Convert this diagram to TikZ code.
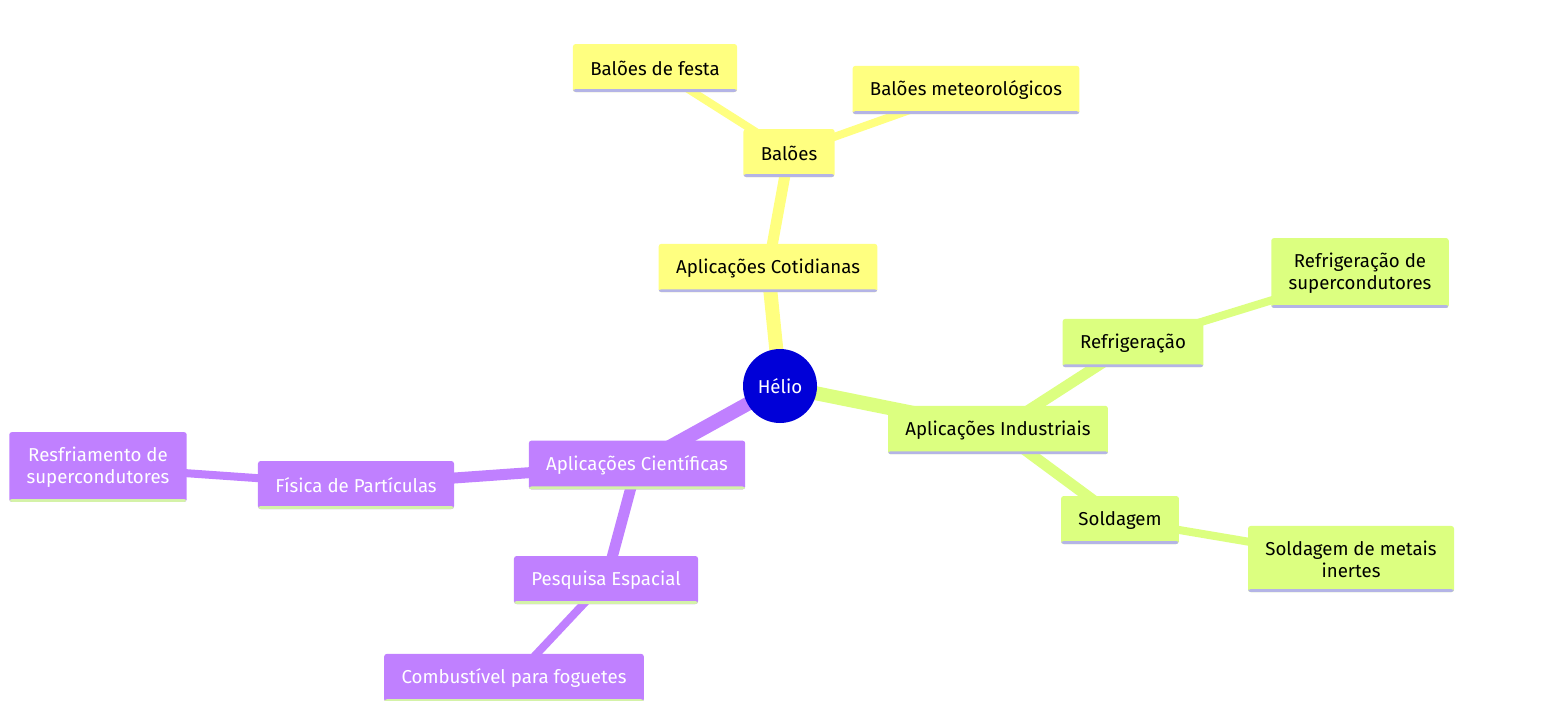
\documentclass[tikz,border=0pt]{standalone}
\usepackage{fontspec}
\setmainfont{Fira Sans}
\usetikzlibrary{backgrounds}
\definecolor{cotid}{HTML}{FFFF80}
\definecolor{indus}{HTML}{DCFF80}
\definecolor{cient}{HTML}{C080FF}
\definecolor{raiz}{HTML}{0000D8}
\definecolor{lavend}{HTML}{B4B4E6}
\definecolor{verdec}{HTML}{D4F2A8}
\tikzset{mmnode/.style={rectangle,rounded corners=2pt,inner xsep=13pt,inner ysep=11pt,
    minimum height=36pt,align=center,font=\fontsize{14}{16.5}\selectfont,
    path picture={\fill[#1] ([yshift=2.2pt]path picture bounding box.south west)
      rectangle (path picture bounding box.south east);}}}
\tikzset{cotnode/.style={mmnode=lavend,fill=cotid},
  indnode/.style={mmnode=lavend,fill=indus},
  cienode/.style={mmnode=verdec,fill=cient,text=white}}
\tikzset{lvlone/.style={line width=10.5pt},
  lvltwo/.style={line width=8.25pt},
  lvlthree/.style={line width=6pt}}

\begin{document}
\begin{tikzpicture}[x=0.75pt,y=-0.75pt]
  \useasboundingbox (0,0) rectangle (1544,700);
  \node(helio)[circle,fill=raiz,text=white,minimum size=55.5pt,inner sep=0pt,
    font=\fontsize{14}{16.5}\selectfont] at (780,386) {Hélio};
  % cotidianas
  \node(cot)[cotnode] at ([shift={(-12,-118)}]helio) {Aplicações Cotidianas};
  \node(bal)[cotnode] at ([shift={(21,-115)}]cot) {Balões};
  \node(fest)[cotnode] at ([shift={(-134,-85)}]bal) {Balões de festa};
  \node(met)[cotnode] at ([shift={(177,-63)}]bal) {Balões meteorológicos};
  % industriais
  \node(ind)[indnode] at ([shift={(218,44)}]helio) {Aplicações Industriais};
  \node(ref)[indnode] at ([shift={(135,-87)}]ind) {Refrigeração};
  \node(refsup)[indnode] at ([shift={(227,-70)}]ref) {Refrigeração de\\supercondutores};
  \node(sol)[indnode] at ([shift={(122,90)}]ind) {Soldagem};
  \node(solmet)[indnode] at ([shift={(231,39)}]sol) {Soldagem de metais\\inertes};
  % cientificas
  \node(cie)[cienode] at ([shift={(-143,79)}]helio) {Aplicações Científicas};
  \node(fis)[cienode] at ([shift={(-281,20)}]cie) {Física de Partículas};
  \node(resf)[cienode] at ([shift={(-258,-18)}]fis) {Resfriamento de\\supercondutores};
  \node(esp)[cienode] at ([shift={(-31,115)}]cie) {Pesquisa Espacial};
  \node(comb)[cienode] at ([shift={(-92,98)}]esp) {Combustível para foguetes};
  \begin{scope}[on background layer]
    \fill[white] (0,0) rectangle (1544,700);
    \draw[cotid,lvlone] (helio.center) -- (cot.center);
    \draw[cotid,lvltwo] (cot.center) -- (bal.center);
    \draw[cotid,lvlthree] (bal.center) -- (fest.center)
      (bal.center) -- (met.center);
    \draw[indus,lvlone] (helio.center) -- (ind.center);
    \draw[indus,lvltwo] (ind.center) -- (ref.center)
      (ind.center) -- (sol.center);
    \draw[indus,lvlthree] (ref.center) -- (refsup.center)
      (sol.center) -- (solmet.center);
    \draw[cient,lvlone] (helio.center) -- (cie.center);
    \draw[cient,lvltwo] (cie.center) -- (fis.center)
      (cie.center) -- (esp.center);
    \draw[cient,lvlthree] (fis.center) -- (resf.center)
      (esp.center) -- (comb.center);
  \end{scope}
\end{tikzpicture}
\end{document}
